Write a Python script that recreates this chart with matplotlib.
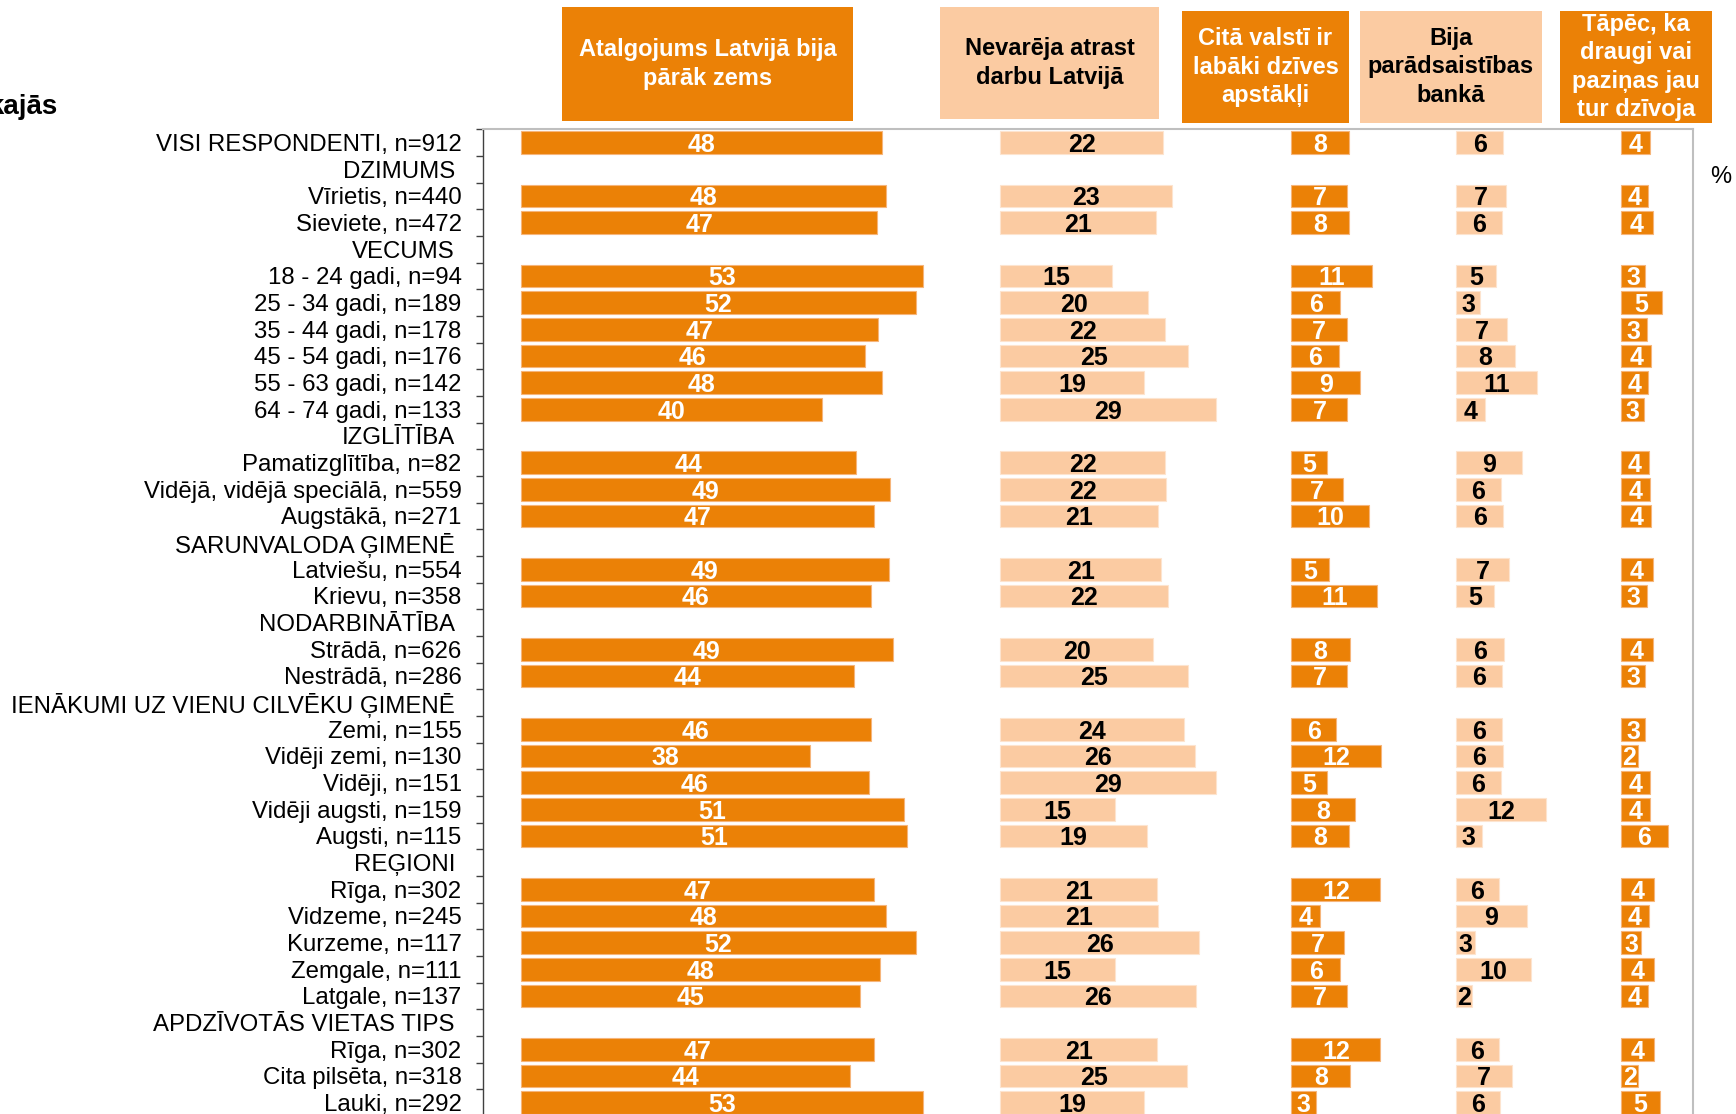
import numpy as np
import matplotlib
matplotlib.use("Agg")
from matplotlib import pyplot as plt
from matplotlib.patches import Rectangle

plt.rcParams['font.family'] = ['Liberation Sans', 'DejaVu Sans']

categories = [
    "VISI RESPONDENTI, n=912", "DZIMUMS", "Vīrietis, n=440", "Sieviete, n=472",
    "VECUMS", "18 - 24 gadi, n=94", "25 - 34 gadi, n=189", "35 - 44 gadi, n=178",
    "45 - 54 gadi, n=176", "55 - 63 gadi, n=142", "64 - 74 gadi, n=133",
    "IZGLĪTĪBA", "Pamatizglītība, n=82", "Vidējā, vidējā speciālā, n=559", "Augstākā, n=271",
    "SARUNVALODA ĢIMENĒ", "Latviešu, n=554", "Krievu, n=358",
    "NODARBINĀTĪBA", "Strādā, n=626", "Nestrādā, n=286",
    "IENĀKUMI UZ VIENU CILVĒKU ĢIMENĒ", "Zemi, n=155", "Vidēji zemi, n=130", "Vidēji, n=151",
    "Vidēji augsti, n=159", "Augsti, n=115",
    "REĢIONI", "Rīga, n=302", "Vidzeme, n=245", "Kurzeme, n=117", "Zemgale, n=111", "Latgale, n=137",
    "APDZĪVOTĀS VIETAS TIPS", "Rīga, n=302", "Cita pilsēta, n=318", "Lauki, n=292",
]
group_rows = [1, 4, 11, 15, 18, 21, 27, 33]

N = None
alga_zema = [47.9, N, 48.4, 47.3, N, 53.4, 52.4, 47.4, 45.6, 47.9, 39.9, N, 44.4, 48.9, 46.9, N,
             48.8, 46.4, N, 49.4, 44.2, N, 46.4, 38.4, 46.2, 50.8, 51.2, N,
             46.9, 48.4, 52.4, 47.7, 45.0, N, 46.9, 43.6, 53.4]
nav_darba = [21.6, N, 22.7, 20.6, N, 14.8, 19.6, 21.8, 24.9, 19.0, 28.6, N, 21.8, 22.0, 20.9, N,
             21.3, 22.2, N, 20.2, 24.9, N, 24.4, 25.8, 28.6, 15.2, 19.4, N,
             20.8, 20.9, 26.4, 15.2, 26.0, N, 20.8, 24.8, 19.1]
labaki_apstakli = [7.6, N, 7.4, 7.6, N, 10.7, 6.4, 7.3, 6.3, 9.1, 7.4, N, 4.7, 6.8, 10.3, N,
                   5.0, 11.4, N, 7.7, 7.4, N, 5.9, 11.9, 4.7, 8.4, 7.6, N,
                   11.8, 3.8, 6.9, 6.4, 7.4, N, 11.8, 7.8, 3.3]
paradi_banka = [6.3, N, 6.7, 6.1, N, 5.3, 3.2, 6.8, 7.9, 10.7, 3.8, N, 8.7, 6.0, 6.3, N,
                7.1, 5.0, N, 6.4, 6.1, N, 6.1, 6.2, 6.0, 12.0, 3.4, N,
                5.7, 9.4, 2.6, 9.9, 2.2, N, 5.7, 7.4, 5.9]
draugi = [3.9, N, 3.6, 4.2, N, 3.2, 5.4, 3.4, 4.0, 3.6, 3.1, N, 3.7, 3.8, 4.0, N,
          4.2, 3.4, N, 4.2, 3.2, N, 3.2, 2.2, 3.9, 3.8, 6.2, N,
          4.4, 3.7, 2.7, 4.4, 3.6, N, 4.4, 2.3, 5.1]

headers = [
    "Atalgojums Latvijā bija\npārāk zems",
    "Nevarēja atrast\ndarbu Latvijā",
    "Citā valstī ir\nlabāki dzīves\napstākļi",
    "Bija\nparādsaistības\nbankā",
    "Tāpēc, ka\ndraugi vai\npaziņas jau\ntur dzīvoja",
]

dark = '#EB8106'
light = '#FBCBA2'
series = [alga_zema, nav_darba, labaki_apstakli, paradi_banka, draugi]
colors = [dark, light, dark, light, dark]
edges = ['#F6B57A', '#FDE4CF', '#F6B57A', '#FDE4CF', '#F6B57A']
txt_colors = ['white', 'black', 'white', 'black', 'white']
starts = [5.0, 68.6, 107.2, 129.0, 150.9]

W, H = 1736, 1114
fig = plt.figure(figsize=(W / 100, H / 100), dpi=100)
ax = fig.add_axes([483 / W, -2 / H, 1209.7 / W, (984.7 + 2) / H])

y = np.arange(len(categories))
for vals, col, ec, tc, x0 in zip(series, colors, edges, txt_colors, starts):
    v = np.array([np.nan if a is None else a for a in vals], dtype=float)
    ok = ~np.isnan(v)
    ax.barh(y[ok], v[ok], left=x0, height=0.85, color=col, edgecolor=ec, linewidth=0.8)
    for yi, vi in zip(y[ok], v[ok]):
        ax.text(x0 + vi / 2, yi, f"{int(np.floor(vi + 0.5))}", ha='center', va='center_baseline',
                color=tc, fontsize=18, fontweight='bold')

ax.set_xlim(0, 160.4)
ax.set_ylim(36.5, -0.5)
ax.set_xticks([])
ax.set_yticks(y)
ax.set_yticklabels(categories, fontsize=17.3)
ax.set_yticks(np.arange(-0.5, 37, 1), minor=True)
ax.tick_params(axis='y', which='major', length=0, pad=15.4)
ax.tick_params(axis='y', which='minor', length=5, width=1, color='#404040', direction='out')
for i, t in enumerate(ax.yaxis.get_major_ticks()):
    if i in group_rows:
        t.set_pad(20.2)

ax.spines['bottom'].set_visible(False)
ax.spines['left'].set_color('#404040')
ax.spines['left'].set_linewidth(1)
for s in ['top', 'right']:
    ax.spines[s].set_color('#BFBFBF')
    ax.spines[s].set_linewidth(1.5)

# header boxes (pixel boxes: x0, y0, x1, y1 from top-left)
boxes = [(562, 7, 853, 121), (940, 7, 1159, 119), (1182, 11, 1349, 123),
         (1360, 11, 1542, 123), (1560, 11, 1712, 123)]
for (x0, y0, x1, y1), head, col, tc in zip(boxes, headers, colors, txt_colors):
    fig.add_artist(Rectangle((x0 / W, 1 - y1 / H), (x1 - x0) / W, (y1 - y0) / H,
                             transform=fig.transFigure, facecolor=col, edgecolor='none'))
    fig.text((x0 + x1) / 2 / W, 1 - (y0 + y1) / 2 / H, head, ha='center', va='center',
             color=tc, fontsize=17, fontweight='bold', linespacing=1.3)

# title cut off at the left edge, as in the source screenshot
fig.text(57 / W, 1 - 114 / H, "kajās", ha='right', va='baseline', fontsize=20, fontweight='bold')
fig.text(1721 / W, 1 - 177 / H, "%", ha='center', va='center', fontsize=17)

fig.savefig("out.png", dpi=100)
